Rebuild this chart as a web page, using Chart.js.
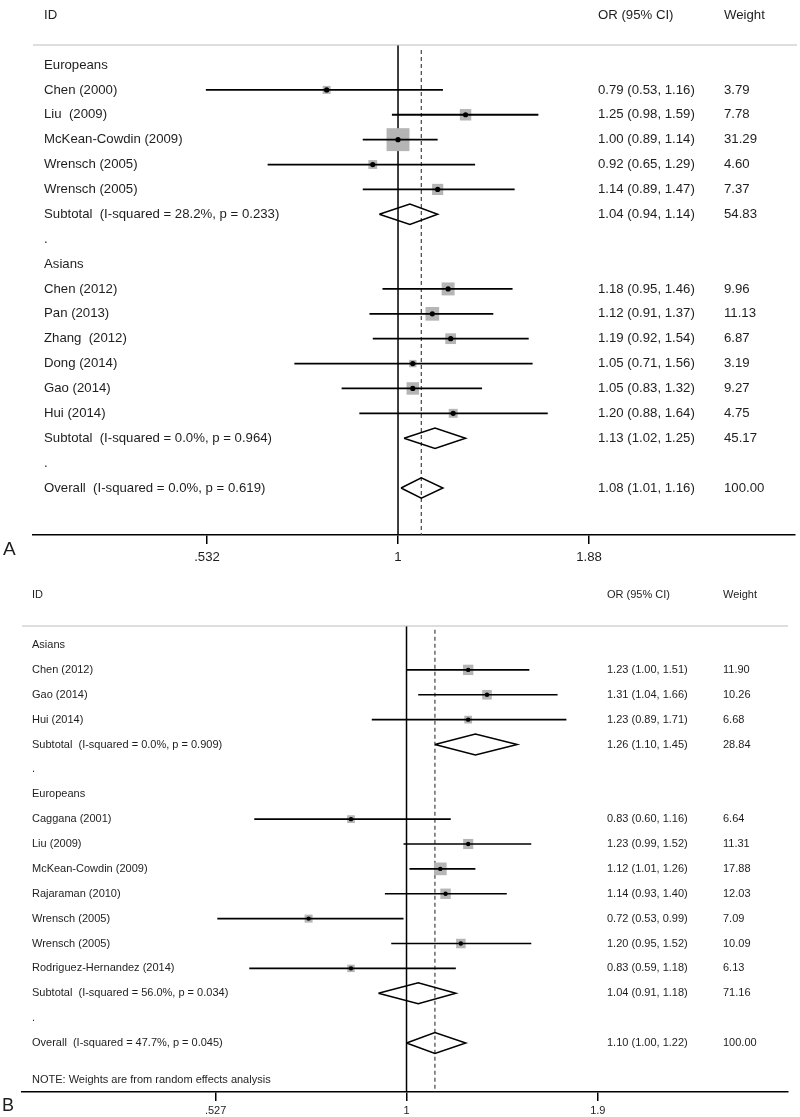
<!DOCTYPE html>
<html><head><meta charset="utf-8">
<script src="https://cdn.jsdelivr.net/npm/chart.js@4.4.1/dist/chart.umd.min.js"></script>
<style>
html,body{margin:0;padding:0;background:#fff;}
#wrap{position:relative;width:800px;height:1117px;overflow:hidden;}
canvas{position:absolute;left:0;}
#cA{top:0;} #cB{top:570px;}
</style></head><body>
<div id="wrap"><canvas id="cA" width="800" height="570"></canvas><canvas id="cB" width="800" height="547"></canvas></div>
<script>
// ---------- Panel A data ----------
const labelsA = ["Europeans","Chen (2000)","Liu  (2009)","McKean-Cowdin (2009)","Wrensch (2005)","Wrensch (2005)",
  "Subtotal  (I-squared = 28.2%, p = 0.233)",".","Asians","Chen (2012)","Pan (2013)","Zhang  (2012)","Dong (2014)",
  "Gao (2014)","Hui (2014)","Subtotal  (I-squared = 0.0%, p = 0.964)",".","Overall  (I-squared = 0.0%, p = 0.619)"];
const kindA = ["group","study","study","study","study","study","pooled","blank","group","study","study","study","study","study","study","pooled","blank","pooled"];
const orA = [null,0.79,1.25,1.00,0.92,1.14,1.04,null,null,1.18,1.12,1.19,1.05,1.05,1.20,1.13,null,1.08];
const loA = [null,0.53,0.98,0.89,0.65,0.89,0.94,null,null,0.95,0.91,0.92,0.71,0.83,0.88,1.02,null,1.01];
const hiA = [null,1.16,1.59,1.14,1.29,1.47,1.14,null,null,1.46,1.37,1.54,1.56,1.32,1.64,1.25,null,1.16];
const weightA = [null,3.79,7.78,31.29,4.60,7.37,54.83,null,null,9.96,11.13,6.87,3.19,9.27,4.75,45.17,null,100.00];
const tickValuesA = [0.532, 1, 1.88];
const tickLabelsA = [".532", "1", "1.88"];
const overallA = 1.08;

// ---------- Panel B data ----------
const labelsB = ["Asians","Chen (2012)","Gao (2014)","Hui (2014)","Subtotal  (I-squared = 0.0%, p = 0.909)",".",
  "Europeans","Caggana (2001)","Liu (2009)","McKean-Cowdin (2009)","Rajaraman (2010)","Wrensch (2005)","Wrensch (2005)",
  "Rodriguez-Hernandez (2014)","Subtotal  (I-squared = 56.0%, p = 0.034)",".","Overall  (I-squared = 47.7%, p = 0.045)"];
const kindB = ["group","study","study","study","pooled","blank","group","study","study","study","study","study","study","study","pooled","blank","pooled"];
const orB = [null,1.23,1.31,1.23,1.26,null,null,0.83,1.23,1.12,1.14,0.72,1.20,0.83,1.04,null,1.10];
const loB = [null,1.00,1.04,0.89,1.10,null,null,0.60,0.99,1.01,0.93,0.53,0.95,0.59,0.91,null,1.00];
const hiB = [null,1.51,1.66,1.71,1.45,null,null,1.16,1.52,1.26,1.40,0.99,1.52,1.18,1.18,null,1.22];
const weightB = [null,11.90,10.26,6.68,28.84,null,null,6.64,11.31,17.88,12.03,7.09,10.09,6.13,71.16,null,100.00];
const tickValuesB = [0.527, 1, 1.9];
const tickLabelsB = [".527", "1", "1.9"];
const overallB = 1.10;
const noteB = "NOTE: Weights are from random effects analysis";

const headers = ["ID", "OR (95% CI)", "Weight"];
const FONT = '"Liberation Sans", Arial, Helvetica, sans-serif';

function buildPanel(canvasId, D, L) {
  const datasets = [];
  const n = D.labels.length;
  // reference line at 1
  datasets.push({data:[{x:1,y:L.ymin},{x:1,y:L.ymax}], showLine:true, borderColor:'#000', borderWidth:1.5,
    pointRadius:0, order:6});
  // overall dashed line
  datasets.push({data:[{x:D.overall,y:L.ymin + L.dashStart},{x:D.overall,y:L.ymax}], showLine:true, borderColor:'#444',
    borderWidth:1.2, borderDash:[4,3], pointRadius:0, order:5});
  // squares
  const sq = [], sqR = [], dots = [];
  for (let i = 0; i < n; i++) {
    if (D.kind[i] === 'study') {
      sq.push({x:D.or[i], y:i});
      sqR.push(L.sqScale * Math.sqrt(D.w[i]) / Math.SQRT2);
      dots.push({x:D.or[i], y:i});
    }
  }
  datasets.push({data:sq, pointStyle:'rect', pointRadius:sqR, pointHoverRadius:sqR, backgroundColor:'#b5b5b5',
    borderWidth:0, pointBorderWidth:0, order:4});
  // CI lines and diamonds
  for (let i = 0; i < n; i++) {
    if (D.kind[i] === 'study') {
      datasets.push({data:[{x:D.lo[i],y:i},{x:D.hi[i],y:i}], showLine:true, borderColor:'#000',
        borderWidth:L.ciWidth, pointRadius:0, order:3});
    } else if (D.kind[i] === 'pooled') {
      const h = L.diamondHalf;
      datasets.push({data:[{x:D.lo[i],y:i},{x:D.or[i],y:i-h},{x:D.hi[i],y:i},{x:D.or[i],y:i+h},{x:D.lo[i],y:i}],
        showLine:true, borderColor:'#000', borderWidth:1.5, pointRadius:0, tension:0, order:2, borderJoinStyle:'miter'});
    }
  }
  // dots
  datasets.push({data:dots, pointStyle:'circle', pointRadius:L.dotR, pointHoverRadius:L.dotR, backgroundColor:'#000',
    borderWidth:0, pointBorderWidth:0, order:1});

  const textPlugin = {
    id: 'forestText' + canvasId,
    afterDraw(chart) {
      const ctx = chart.ctx, ys = chart.scales.y, ca = chart.chartArea;
      ctx.save();
      // header rule
      ctx.strokeStyle = '#bdbdbd'; ctx.lineWidth = 1.2;
      ctx.beginPath(); ctx.moveTo(L.ruleL, ca.top); ctx.lineTo(L.ruleR, ca.top); ctx.stroke();
      ctx.font = L.fontSize + 'px ' + FONT;
      ctx.fillStyle = '#1e1e1e'; ctx.textBaseline = 'middle'; ctx.textAlign = 'left';
      ctx.fillText(headers[0], L.colId, L.headerY);
      ctx.fillText(headers[1], L.colOr, L.headerY);
      ctx.fillText(headers[2], L.colW, L.headerY);
      for (let i = 0; i < n; i++) {
        const y = ys.getPixelForValue(i);
        ctx.fillText(D.labels[i], L.colId, y);
        if (D.or[i] != null) {
          ctx.fillText(D.or[i].toFixed(2) + ' (' + D.lo[i].toFixed(2) + ', ' + D.hi[i].toFixed(2) + ')', L.colOr, y);
          ctx.fillText(D.w[i].toFixed(2), L.colW, y);
        }
      }
      if (D.note) ctx.fillText(D.note, L.colId, ys.getPixelForValue(n + 0.5));
      ctx.font = L.letterSize + 'px ' + FONT;
      ctx.fillText(L.letter, L.letterX, L.letterY);
      ctx.restore();
    }
  };

  return new Chart(document.getElementById(canvasId), {
    type: 'scatter',
    data: { datasets },
    options: {
      responsive: false, animation: false, devicePixelRatio: 1,
      layout: { padding: L.padding, autoPadding: false },
      plugins: { legend: {display:false}, tooltip: {enabled:false} },
      events: [],
      scales: {
        x: {
          type: 'logarithmic', position: 'bottom', min: L.xmin, max: L.xmax, bounds: 'data',
          afterBuildTicks: (s) => { s.ticks = D.tickValues.map(v => ({value: v})); },
          afterFit: (s) => { s.height = L.axisH; },
          ticks: { autoSkip:false, maxRotation:0, minRotation:0, padding:L.tickPad, color:'#1e1e1e',
            font: {family: FONT, size: L.fontSize},
            callback: (v) => { const k = D.tickValues.indexOf(v); return k >= 0 ? D.tickLabels[k] : ''; } },
          grid: { display:true, drawOnChartArea:false, drawTicks:true, tickLength:9, color:'#000', lineWidth:1.5 },
          border: { display:true, color:'#000', width:1.5 }
        },
        y: { type:'linear', reverse:true, min:L.ymin, max:L.ymax, display:false }
      }
    },
    plugins: [textPlugin]
  });
}

buildPanel('cA',
  {labels:labelsA, kind:kindA, or:orA, lo:loA, hi:hiA, w:weightA, tickValues:tickValuesA, tickLabels:tickLabelsA, overall:overallA},
  {padding:{left:33, right:5, top:45, bottom:7}, axisH:28, tickPad:5, xmin:0.2994, xmax:3.712, ymin:-0.804, ymax:18.89,
   dashStart:0.2, sqScale:4.1, ciWidth:1.8, dotR:2.6, diamondHalf:0.41, fontSize:13.2, colId:44, colOr:598, colW:724,
   headerY:15, ruleL:33, ruleR:797, letter:'A', letterX:3, letterY:550, letterSize:19});

buildPanel('cB',
  {labels:labelsB, kind:kindB, or:orB, lo:loB, hi:hiB, w:weightB, tickValues:tickValuesB, tickLabels:tickLabelsB, overall:overallB, note:noteB},
  {padding:{left:22, right:12, top:56, bottom:3}, axisH:22, tickPad:3, xmin:0.2752, xmax:3.597, ymin:-0.764, ymax:17.97,
   dashStart:0.15, sqScale:3.0, ciWidth:1.6, dotR:2.2, diamondHalf:0.42, fontSize:11, colId:32, colOr:607, colW:723,
   headerY:25, ruleL:22, ruleR:788, letter:'B', letterX:2, letterY:536, letterSize:18});
</script>
</body></html>
